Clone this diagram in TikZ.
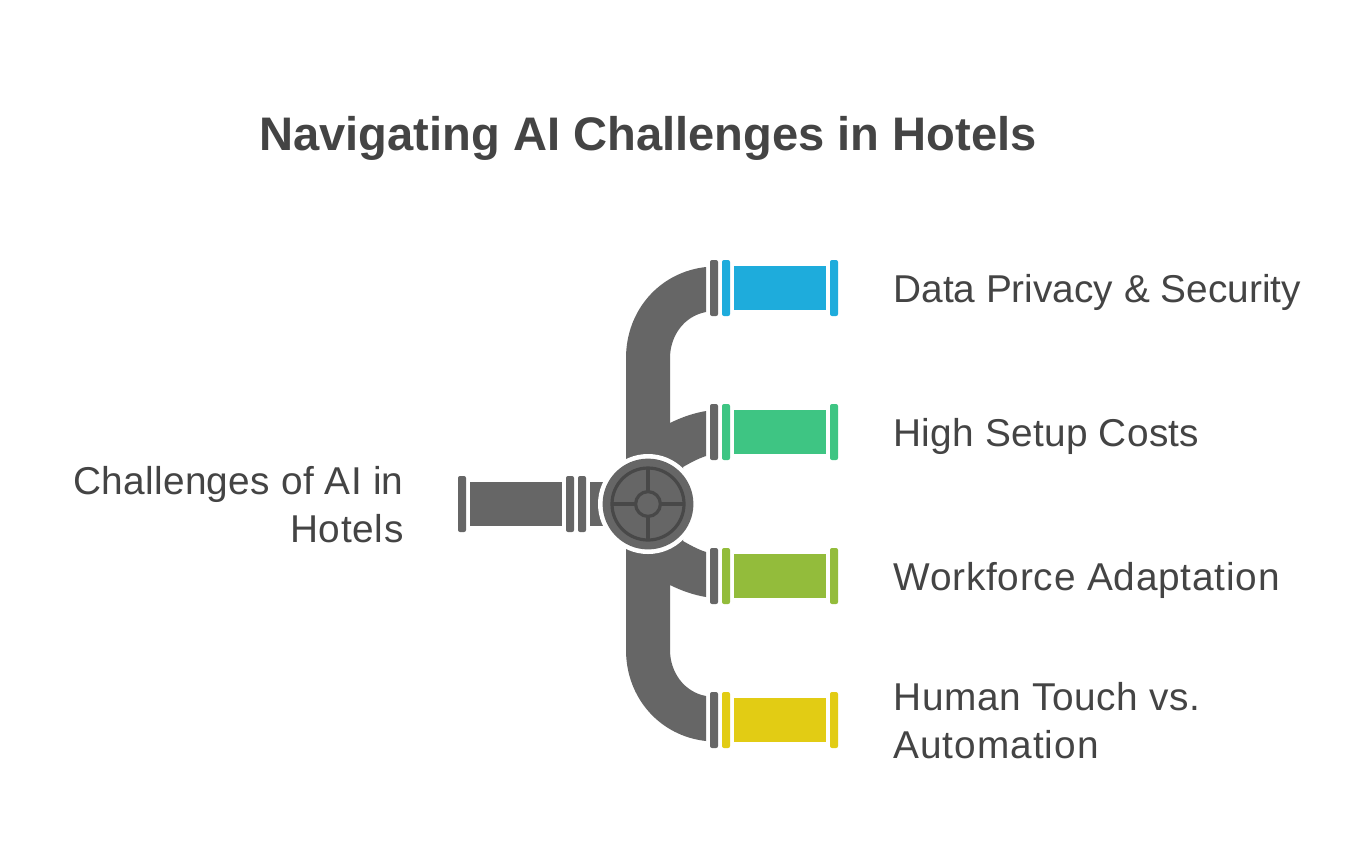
\documentclass[tikz,border=0pt]{standalone}
\usepackage{fontspec}
\setmainfont{Liberation Sans}
\definecolor{pipegray}{HTML}{666666}
\definecolor{hubdark}{HTML}{484848}
\definecolor{txt}{HTML}{444444}
\definecolor{cblue}{HTML}{1EACDC}
\definecolor{cgreen}{HTML}{3EC583}
\definecolor{colive}{HTML}{93BC3B}
\definecolor{cyellow}{HTML}{E2CC14}
\newcommand{\spaced}[2]{{\addfontfeature{LetterSpace=#1}#2}}
\tikzset{
  flange/.style={rounded corners=1pt,fill=#1,draw=none},
  tube/.style={fill=#1,draw=none},
  label/.style={text=txt,font=\fontsize{19.4}{24}\selectfont,inner sep=0pt,anchor=base west,align=left},
  labelleft/.style={text=txt,font=\fontsize{19.4}{24}\selectfont,inner sep=0pt,anchor=base east,align=right},
  titletext/.style={text=txt,font=\fontsize{23.55}{29}\selectfont\bfseries,inner sep=0pt,anchor=base},
  spoke/.style={draw=hubdark,line width=1.6pt}
}
\newcommand{\branch}[2]{%
  \fill[flange=pipegray] (710,#1-28) rectangle (718,#1+28);
  \fill[flange=#2] (722,#1-28) rectangle (730,#1+28);
  \fill[tube=#2] (734,#1-22) rectangle (826,#1+22);
  \fill[flange=#2] (830,#1-28) rectangle (838,#1+28);
}
\begin{document}
\begin{tikzpicture}[x=0.5pt,y=-0.5pt]
\useasboundingbox (0,0) rectangle (1368,864);
\fill[white] (0,0) rectangle (1368,864);
% main pipe
\fill[tube=pipegray] (706,267) .. controls (660,272) and (626,310) .. (626,358)
  -- (626,650) .. controls (626,698) and (660,736) .. (706,741)
  -- (706,696) .. controls (684,692) and (670,672) .. (670,650)
  -- (670,585) .. controls (682,591) and (694,595) .. (706,597)
  -- (706,552) .. controls (697,549) and (690,545) .. (683,541)
  -- (683,467) .. controls (690,463) and (697,459) .. (706,456)
  -- (706,411) .. controls (694,413) and (682,417) .. (670,423)
  -- (670,358) .. controls (670,336) and (684,316) .. (706,312) -- cycle;
% branches
\branch{288}{cblue}
\branch{432}{cgreen}
\branch{576}{colive}
\branch{720}{cyellow}
% input pipe
\fill[flange=pipegray] (458,476) rectangle (466,532);
\fill[tube=pipegray] (470,482) rectangle (562,526);
\fill[flange=pipegray] (566,476) rectangle (574,532);
\fill[flange=pipegray] (578,476) rectangle (586,532);
\fill[tube=pipegray] (590,482) rectangle (610,526);
% hub
\fill[white] (648,504) circle [radius=25pt];
\fill[pipegray] (648,504) circle [radius=22.7pt];
\draw[spoke] (648,504) circle [radius=18pt];
\draw[spoke] (648,504) circle [radius=6.2pt];
\draw[spoke] (648,467.5) -- (648,491.5);
\draw[spoke] (648,516.5) -- (648,540.5);
\draw[spoke] (611.5,504) -- (635.5,504);
\draw[spoke] (660.5,504) -- (684.5,504);
% text
\node[titletext] (title) at (648,150) {Navigating AI Challenges in Hotels};
\node[label] (l1) at (893,302) {Data Privacy \& Security};
\node[label] (l2) at (893,446) {\spaced{0.8}{High Setup Costs}};
\node[label] (l3) at (893,590) {\spaced{2}{Workforce Adaptation}};
\node[label] (l4) at (893,758) {\spaced{1.5}{Human Touch vs.}\\\spaced{2.6}{Automation}};
\node[labelleft] (l0) at (404,542) {\spaced{0.8}{Challenges of AI in}\\\spaced{1.7}{Hotels}};
\end{tikzpicture}
\end{document}
